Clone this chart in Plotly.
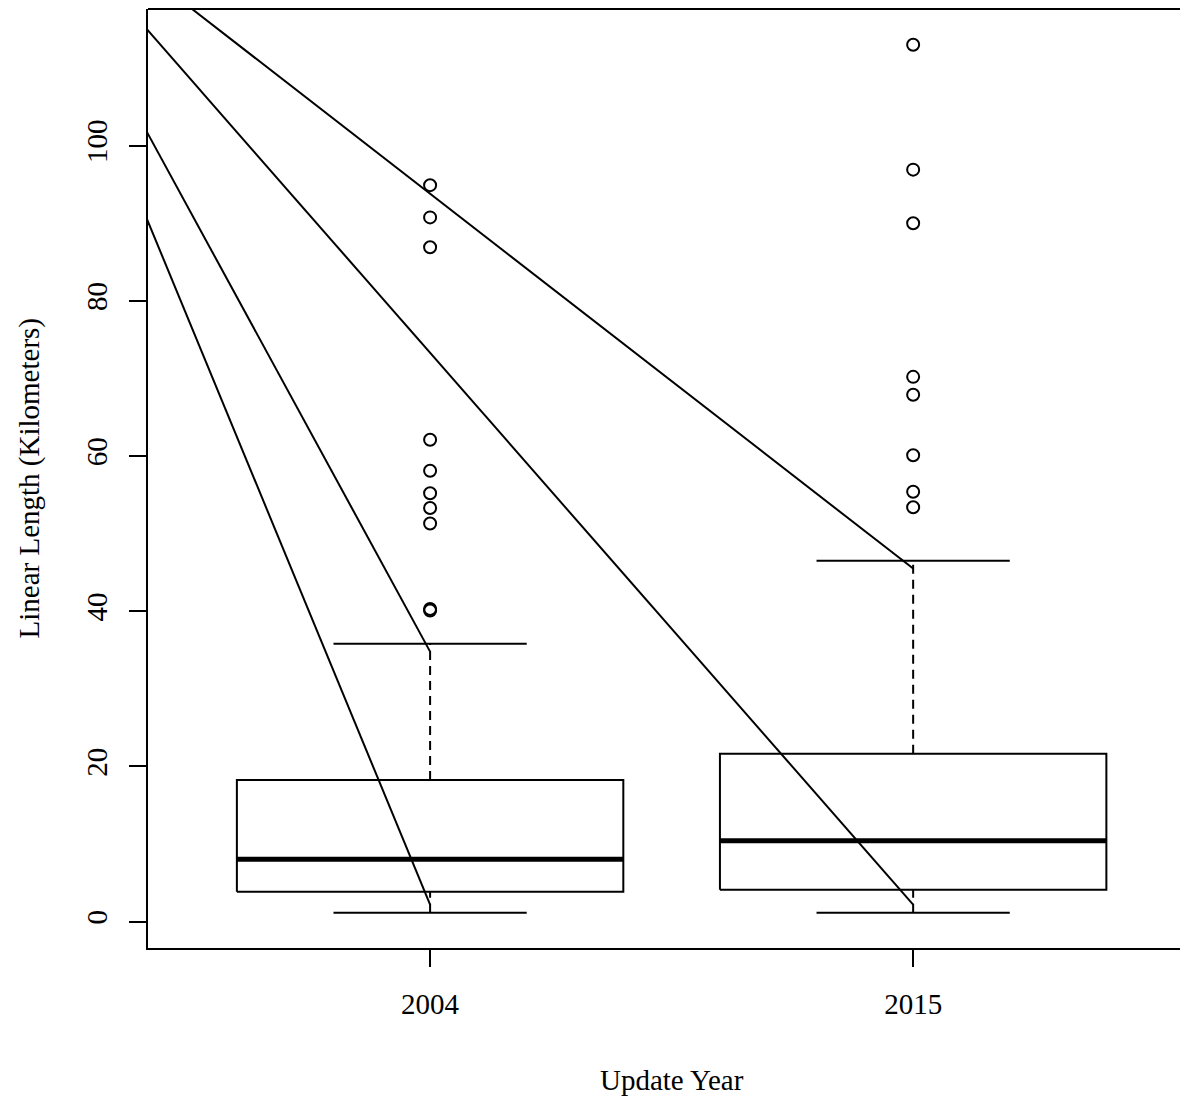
import plotly.graph_objects as go

# ---- data ----
categories = ["2004", "2015"]
positions = [1, 2]
lower_whisker = [1.16, 1.16]
q1 = [3.87, 4.12]
median = [8.04, 10.44]
q3 = [18.26, 21.65]
upper_whisker = [35.8, 46.5]
outliers_2004 = [94.9, 90.75, 86.9, 62.1, 58.1, 55.2, 53.3, 51.3, 40.3, 40.1]
outliers_2015 = [113.0, 96.9, 90.0, 70.2, 67.9, 60.1, 55.4, 53.4]
outliers = [outliers_2004, outliers_2015]

# extra straight lines drawn over the boxplot (start / end in data units)
line_x0 = [0, 0, 0, 0]
line_y0 = [142.1, 144.4, 149.0, 152.9]
line_x1 = [2, 2, 1, 1]
line_y1 = [45.5, 2.2, 34.8, 2.2]

y_ticks = [0, 20, 40, 60, 80, 100]

# ---- style ----
FONT = "Liberation Serif"
FS = 29
BOX_HALF = 0.4
CAP_HALF = 0.2
BLACK = "black"

fig = go.Figure()

for i, p in enumerate(positions):
    # whiskers (dashed)
    fig.add_trace(go.Scatter(x=[p, p], y=[q3[i], upper_whisker[i]], mode="lines",
                             line=dict(color=BLACK, width=2, dash="9px,6px"),
                             showlegend=False, hoverinfo="skip"))
    fig.add_trace(go.Scatter(x=[p, p], y=[lower_whisker[i], q1[i]], mode="lines",
                             line=dict(color=BLACK, width=2, dash="9px,6px"),
                             showlegend=False, hoverinfo="skip"))
    # caps
    for v in (lower_whisker[i], upper_whisker[i]):
        fig.add_trace(go.Scatter(x=[p - CAP_HALF, p + CAP_HALF], y=[v, v], mode="lines",
                                 line=dict(color=BLACK, width=2),
                                 showlegend=False, hoverinfo="skip"))
    # box
    fig.add_trace(go.Scatter(
        x=[p - BOX_HALF, p + BOX_HALF, p + BOX_HALF, p - BOX_HALF, p - BOX_HALF],
        y=[q1[i], q1[i], q3[i], q3[i], q1[i]], mode="lines",
        line=dict(color=BLACK, width=2), fill="toself", fillcolor="white",
        showlegend=False, hoverinfo="skip"))
    # median
    fig.add_trace(go.Scatter(x=[p - BOX_HALF, p + BOX_HALF], y=[median[i], median[i]],
                             mode="lines", line=dict(color=BLACK, width=5),
                             showlegend=False, hoverinfo="skip"))
    # outliers
    fig.add_trace(go.Scatter(x=[p] * len(outliers[i]), y=outliers[i], mode="markers",
                             marker=dict(symbol="circle-open", size=12,
                                         line=dict(color=BLACK, width=2), color=BLACK),
                             showlegend=False, hoverinfo="skip"))

for j in range(len(line_x0)):
    fig.add_trace(go.Scatter(x=[line_x0[j], line_x1[j]], y=[line_y0[j], line_y1[j]],
                             mode="lines", line=dict(color=BLACK, width=2),
                             showlegend=False, hoverinfo="skip"))

# page has an 8px body margin, so the figure is sized / offset to compensate
fig.update_layout(
    width=1180, height=1092,
    margin=dict(l=140, r=0, t=1, b=152),
    paper_bgcolor="white", plot_bgcolor="white",
    font=dict(family=FONT, size=FS, color=BLACK),
    showlegend=False,
    xaxis=dict(range=[0.416, 2.569], tickmode="array", tickvals=positions,
               ticktext=categories, ticks="outside", ticklen=17, tickwidth=2,
               tickcolor=BLACK, showline=True, linewidth=2, linecolor=BLACK,
               showgrid=False, zeroline=False, tickfont=dict(family=FONT, size=FS),
               ticklabelstandoff=12),
    yaxis=dict(range=[-3.39, 117.6], tickmode="array", tickvals=y_ticks,
               ticks="outside", ticklen=17, tickwidth=2, tickcolor=BLACK,
               showline=True, linewidth=2, linecolor=BLACK, showgrid=False,
               zeroline=False, tickangle=-90, tickfont=dict(family=FONT, size=FS),
               ticklabelstandoff=10),
    shapes=[dict(type="line", xref="paper", yref="paper", x0=0, x1=1, y0=1, y1=1,
                 line=dict(color=BLACK, width=2))],
    annotations=[
        dict(text="Update Year", xref="x", yref="paper", x=1.5, y=(948 - 1080) / 939,
             xanchor="center", yanchor="middle", showarrow=False,
             font=dict(family=FONT, size=FS)),
        dict(text="Linear Length (Kilometers)", xref="paper", yref="paper",
             x=(29 - 148) / 1040, y=0.5, textangle=-90, xanchor="center",
             yanchor="middle", showarrow=False, font=dict(family=FONT, size=FS)),
    ],
)

fig.write_html("out.html")
